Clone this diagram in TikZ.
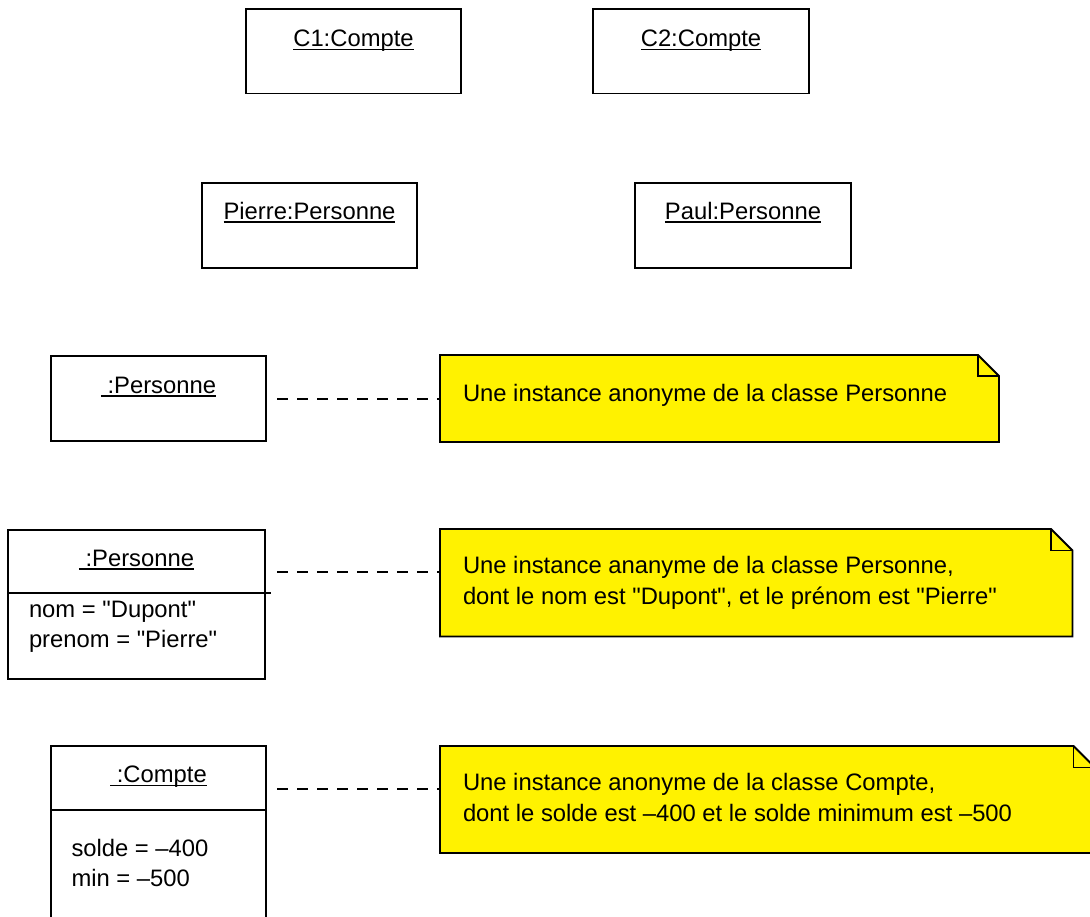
\documentclass[tikz,border=0pt]{standalone}
\usepackage{fontspec}
\setmainfont{Liberation Sans}[Ligatures=TeXOff]
\usetikzlibrary{calc}
\begin{document}
\begin{tikzpicture}[x=1pt,y=-1pt,
  every node/.style={font=\fontsize{23.8}{30}\selectfont},
  objbox/.style={draw=black,line width=1.8pt,rectangle,inner sep=0pt,outer sep=0pt},
  lbl/.style={inner sep=0pt,outer sep=0pt,anchor=base},
  attr/.style={inner sep=0pt,outer sep=0pt,anchor=base west},
  uline/.style={line width=1.4pt},
  notebg/.style={rectangle,inner sep=0pt,outer sep=0pt},
  noteline/.style={draw=black,fill=yellow,line width=1.8pt,line join=miter},
  foldline/.style={draw=black,line width=1.8pt},
  link/.style={line width=1.8pt,dash pattern=on 10.5pt off 9.5pt}
]
\useasboundingbox (0,0) rectangle (1090,916);
\clip (0,0) rectangle (1090,916);

% ---------- top object boxes ----------
\node[objbox,minimum width=215,minimum height=84.5] (c1) at (353.5,51.25) {};
\node[lbl] (c1t) at ($(c1.north)+(0,37.5)$) {C1:Compte~};
\draw[uline] ([yshift=-2.8pt]c1t.base west) -- ([yshift=-2.8pt]c1t.base east);

\node[objbox,minimum width=216,minimum height=84.5] (c2) at (701,51.25) {};
\node[lbl] (c2t) at ($(c2.north)+(0,37.5)$) {C2:Compte~};
\draw[uline] ([yshift=-2.8pt]c2t.base west) -- ([yshift=-2.8pt]c2t.base east);

\node[objbox,minimum width=215,minimum height=85] (pierre) at (309.5,225.5) {};
\node[lbl] (pierret) at ($(pierre.north)+(0,36)$) {Pierre:Personne~};
\draw[uline] ([yshift=-2.8pt]pierret.base west) -- ([yshift=-2.8pt]pierret.base east);

\node[objbox,minimum width=216,minimum height=85] (paul) at (743,225.5) {};
\node[lbl] (pault) at ($(paul.north)+(0,36)$) {Paul:Personne~};
\draw[uline] ([yshift=-2.8pt]pault.base west) -- ([yshift=-2.8pt]pault.base east);

% ---------- anonymous Personne ----------
\node[objbox,minimum width=215,minimum height=85] (p1) at (158.5,398.5) {};
\node[lbl] (p1t) at ($(p1.north)+(0,37)$) {~:Personne~};
\draw[uline] ([yshift=-2.8pt]p1t.base west) -- ([yshift=-2.8pt]p1t.base east);

% ---------- Personne with attributes ----------
\node[objbox,minimum width=257,minimum height=149] (p2) at (136.5,604.5) {};
\node[lbl] (p2t) at ($(p2.north)+(0,36)$) {~:Personne~};
\draw[uline] ([yshift=-2.8pt]p2t.base west) -- ([yshift=-2.8pt]p2t.base east);
\coordinate (p2sep) at (270.5,592.7);
\draw[line width=1.8pt] (p2.west |- p2sep) -- (p2sep);
\node[attr] (p2a) at (29,617.5) {nom = "Dupont"};
\node[attr] (p2b) at (29,647.5) {prenom = "Pierre"};

% ---------- Compte with attributes ----------
\node[objbox,minimum width=215,minimum height=184] (cp) at (158.5,838) {};
\node[lbl] (cpt) at ($(cp.north)+(0,36.7)$) {~:Compte~};
\draw[uline] ([yshift=-2.8pt]cpt.base west) -- ([yshift=-2.8pt]cpt.base east);
\coordinate (cpsep) at (266,810.3);
\draw[line width=1.8pt] (cp.west |- cpsep) -- (cp.east |- cpsep);
\node[attr] (cpa) at (71.5,856) {solde = –400};
\node[attr] (cpb) at (71.5,886) {min = –500};

% ---------- notes ----------
\node[notebg,minimum width=559,minimum height=87] (n1) at (719.5,398.5) {};
\draw[noteline] (n1.north west) -- ([xshift=-21pt]n1.north east) -- ([yshift=-21pt]n1.north east) -- (n1.south east) -- (n1.south west) -- cycle;
\draw[foldline] ([xshift=-21pt]n1.north east) -- ([xshift=-21pt,yshift=-21pt]n1.north east) -- ([yshift=-21pt]n1.north east);
\node[attr] (n1a) at (463,401.5) {Une instance anonyme de la classe Personne};

\node[notebg,minimum width=632.5,minimum height=107.5] (n2) at (756.25,582.75) {};
\draw[noteline] (n2.north west) -- ([xshift=-21.5pt]n2.north east) -- ([yshift=-21.5pt]n2.north east) -- (n2.south east) -- (n2.south west) -- cycle;
\draw[foldline] ([xshift=-21.5pt]n2.north east) -- ([xshift=-21.5pt,yshift=-21.5pt]n2.north east) -- ([yshift=-21.5pt]n2.north east);
\node[attr] (n2a) at (463,573) {Une instance ananyme de la classe Personne,};
\node[attr] (n2b) at (463,604) {dont le nom est "Dupont", et le prénom est "Pierre"};

\node[notebg,minimum width=655,minimum height=107] (n3) at (767.5,799.5) {};
\draw[noteline] (n3.north west) -- ([xshift=-21.5pt]n3.north east) -- ([yshift=-21.5pt]n3.north east) -- (n3.south east) -- (n3.south west) -- cycle;
\draw[foldline] ([xshift=-21.5pt]n3.north east) -- ([xshift=-21.5pt,yshift=-21.5pt]n3.north east) -- ([yshift=-21.5pt]n3.north east);
\node[attr] (n3a) at (463,790) {Une instance anonyme de la classe Compte,};
\node[attr] (n3b) at (463,821.5) {dont le solde est –400 et le solde minimum est –500};

% ---------- dashed connectors ----------
\coordinate (d1) at (277,399);
\coordinate (d2) at (277,572);
\coordinate (d3) at (277,789);
\draw[link] (d1) -- (n1.west |- d1);
\draw[link] (d2) -- (n2.west |- d2);
\draw[link] (d3) -- (n3.west |- d3);
\end{tikzpicture}
\end{document}
